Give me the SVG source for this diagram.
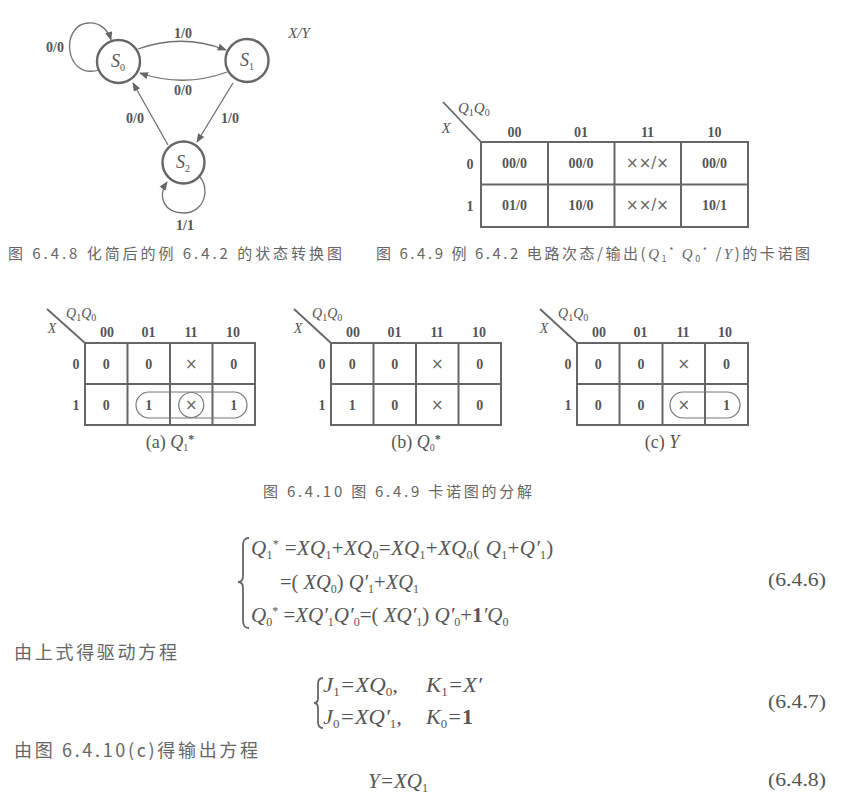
<svg xmlns="http://www.w3.org/2000/svg" width="862" height="801" viewBox="0 0 862 801">
<defs>
<marker id="ah" viewBox="0 0 10 10" refX="9" refY="5" markerWidth="9" markerHeight="9" orient="auto" markerUnits="userSpaceOnUse">
<path d="M0,1 L10,5 L0,9 z" fill="#666"/>
</marker>
<style>
.edge{stroke:#707070;stroke-width:1.3;fill:none;marker-end:url(#ah)}
.st{stroke:#666;stroke-width:2.4;fill:#fff}
.sl{font-family:"Liberation Serif",serif;font-style:italic;font-size:18px;fill:#555;text-anchor:middle}
.lbl{font-family:"Liberation Serif",serif;font-weight:bold;font-size:14px;fill:#555;text-anchor:middle}
.it{font-family:"Liberation Serif",serif;font-style:italic;fill:#555}
.grid{stroke:#666;stroke-width:2;fill:none}
.thin{stroke:#666;stroke-width:1.8;fill:none}
.cv{font-family:"Liberation Serif",serif;font-weight:bold;font-size:14px;fill:#555;text-anchor:middle}
.cx{font-family:"DejaVu Sans",sans-serif;font-size:15px;fill:#666;text-anchor:middle}
.cjk{font-family:"Noto Sans CJK SC",sans-serif;fill:#666}
.eq{font-family:"Liberation Serif",serif;font-style:italic;font-size:21px;fill:#555}
.eq20{font-family:"Liberation Serif",serif;font-style:italic;font-size:20.5px;fill:#555}
.eq21{font-family:"Liberation Serif",serif;font-style:italic;font-size:21px;fill:#555;letter-spacing:0.3px}
.num{font-family:"Liberation Serif",serif;font-size:18px;fill:#555}
.loop{stroke:#777;stroke-width:1.2;fill:none}
.s{font-style:normal;font-size:12px}
.s10{font-style:normal;font-size:10px}
.u{font-style:normal}
</style>
</defs>
<rect width="862" height="801" fill="#fff"/>

<!-- State diagram connectors -->
<g id="connectors">
<path class="edge" d="M99,70 C64,80 60,25 88,23 C100,22 108,30 111,40"/>
<path class="edge" d="M138,49 Q182,33 226,50"/>
<path class="edge" d="M227,72 Q184,88 140,73"/>
<path class="edge" d="M168,145 L133,83"/>
<path class="edge" d="M233,83 L197,142"/>
<path class="edge" d="M198,175 C212,188 204,213 184,213 C164,213 157,197 167,182"/>
<text class="lbl" x="55" y="52">0/0</text>
<text class="lbl" x="183" y="38">1/0</text>
<text class="lbl" x="183" y="95">0/0</text>
<text class="lbl" x="135" y="123">0/0</text>
<text class="lbl" x="230" y="123">1/0</text>
<text class="lbl" x="185" y="230">1/1</text>
</g>
<g id="S0"><circle class="st" cx="118.5" cy="61.5" r="21.5"/><text class="sl" x="118" y="67">S<tspan class="s10" font-size="11" baseline-shift="-4">0</tspan></text></g>
<g id="S1"><circle class="st" cx="247" cy="60.5" r="21.5"/><text class="sl" x="247" y="66">S<tspan class="s10" font-size="11" baseline-shift="-4">1</tspan></text></g>
<g id="S2"><circle class="st" cx="183.5" cy="162.5" r="21"/><text class="sl" x="183" y="168">S<tspan class="s10" font-size="11" baseline-shift="-4">2</tspan></text></g>
<text class="it" x="299" y="38" font-size="15" text-anchor="middle">X/Y</text>

<!-- Top K-map -->
<g id="kmap-main" transform="translate(481,142)">
<rect class="grid" x="0" y="0" width="267" height="85"/>
<path class="grid" d="M67,0V85M133.5,0V85M200,0V85M0,42.5H267"/>
<path class="thin" d="M-38,-40L0,0"/>
<text class="it" x="-23" y="-29" font-size="15">Q<tspan class="s10" baseline-shift="-3">1</tspan>Q<tspan class="s10" baseline-shift="-3">0</tspan></text>
<text class="it" x="-35" y="-9" font-size="15" text-anchor="middle">X</text>
<text class="cv" x="33.5" y="-5">00</text><text class="cv" x="100" y="-5">01</text><text class="cv" x="166.5" y="-5">11</text><text class="cv" x="233.5" y="-5">10</text>
<text class="cv" x="-11" y="27">0</text><text class="cv" x="-11" y="69">1</text>
<text class="cv" x="33.5" y="26">00/0</text><text class="cv" x="100" y="26">00/0</text><text class="cx" x="166.5" y="26" font-size="14">××/×</text><text class="cv" x="233.5" y="26">00/0</text>
<text class="cv" x="33.5" y="68">01/0</text><text class="cv" x="100" y="68">10/0</text><text class="cx" x="166.5" y="68" font-size="14">××/×</text><text class="cv" x="233.5" y="68">10/1</text>
</g>

<text class="cjk" x="8" y="259" font-size="15" textLength="334" lengthAdjust="spacing">图 6.4.8  化简后的例 6.4.2 的状态转换图</text>
<text class="cjk" x="376" y="259" font-size="15" textLength="434" lengthAdjust="spacing">图 6.4.9  例 6.4.2 电路次态/输出(<tspan font-family="Liberation Serif" font-style="italic">Q</tspan><tspan font-size="9" baseline-shift="-3">1</tspan><tspan font-size="9" baseline-shift="5">*</tspan> <tspan font-family="Liberation Serif" font-style="italic">Q</tspan><tspan font-size="9" baseline-shift="-3">0</tspan><tspan font-size="9" baseline-shift="5">*</tspan> /<tspan font-family="Liberation Serif" font-style="italic">Y</tspan>)的卡诺图</text>

<!-- Small K-map (a) -->
<g id="kmap-a" transform="translate(85,343)">
<rect class="grid" x="0" y="0" width="170" height="82"/>
<path class="grid" d="M42.5,0V82M85,0V82M127.5,0V82M0,41H170"/>
<path class="thin" d="M-38,-34L0,0"/>
<text class="it" x="-19" y="-25" font-size="14">Q<tspan class="s10" baseline-shift="-3">1</tspan>Q<tspan class="s10" baseline-shift="-3">0</tspan></text>
<text class="it" x="-33" y="-10" font-size="14" text-anchor="middle">X</text>
<text class="cv" x="22" y="-6">00</text><text class="cv" x="63.5" y="-6">01</text><text class="cv" x="106" y="-6">11</text><text class="cv" x="148" y="-6">10</text>
<text class="cv" x="-9" y="26">0</text><text class="cv" x="-9" y="67">1</text>
<text class="cv" x="21.25" y="26">0</text><text class="cv" x="63.75" y="26">0</text><text class="cx" x="106.25" y="26">×</text><text class="cv" x="148.75" y="26">0</text>
<text class="cv" x="21.25" y="67">0</text><text class="cv" x="63.75" y="67">1</text><text class="cx" x="106.25" y="67">×</text><text class="cv" x="148.75" y="67">1</text>
<rect class="loop" x="51" y="49" width="111" height="26" rx="13"/>
<circle class="loop" cx="106.25" cy="62" r="12.5"/>
</g>
<text class="num" x="170" y="448" font-size="14" text-anchor="middle">(a) <tspan font-style="italic">Q</tspan><tspan font-size="10" baseline-shift="-3">1</tspan><tspan font-size="12" font-weight="bold" baseline-shift="5">*</tspan></text>

<!-- Small K-map (b) -->
<g id="kmap-b" transform="translate(331,343)">
<rect class="grid" x="0" y="0" width="170" height="82"/>
<path class="grid" d="M42.5,0V82M85,0V82M127.5,0V82M0,41H170"/>
<path class="thin" d="M-37,-34L0,0"/>
<text class="it" x="-19" y="-25" font-size="14">Q<tspan class="s10" baseline-shift="-3">1</tspan>Q<tspan class="s10" baseline-shift="-3">0</tspan></text>
<text class="it" x="-33" y="-10" font-size="14" text-anchor="middle">X</text>
<text class="cv" x="22" y="-6">00</text><text class="cv" x="63.5" y="-6">01</text><text class="cv" x="106" y="-6">11</text><text class="cv" x="148" y="-6">10</text>
<text class="cv" x="-9" y="26">0</text><text class="cv" x="-9" y="67">1</text>
<text class="cv" x="21.25" y="26">0</text><text class="cv" x="63.75" y="26">0</text><text class="cx" x="106.25" y="26">×</text><text class="cv" x="148.75" y="26">0</text>
<text class="cv" x="21.25" y="67">1</text><text class="cv" x="63.75" y="67">0</text><text class="cx" x="106.25" y="67">×</text><text class="cv" x="148.75" y="67">0</text>
</g>
<text class="num" x="416" y="448" font-size="14" text-anchor="middle">(b) <tspan font-style="italic">Q</tspan><tspan font-size="10" baseline-shift="-3">0</tspan><tspan font-size="12" font-weight="bold" baseline-shift="5">*</tspan></text>

<!-- Small K-map (c) -->
<g id="kmap-c" transform="translate(577,343)">
<rect class="grid" x="0" y="0" width="171" height="82"/>
<path class="grid" d="M42.5,0V82M85.5,0V82M128,0V82M0,41H171"/>
<path class="thin" d="M-37,-34L0,0"/>
<text class="it" x="-19" y="-25" font-size="14">Q<tspan class="s10" baseline-shift="-3">1</tspan>Q<tspan class="s10" baseline-shift="-3">0</tspan></text>
<text class="it" x="-33" y="-10" font-size="14" text-anchor="middle">X</text>
<text class="cv" x="22" y="-6">00</text><text class="cv" x="63.5" y="-6">01</text><text class="cv" x="106" y="-6">11</text><text class="cv" x="148" y="-6">10</text>
<text class="cv" x="-9" y="26">0</text><text class="cv" x="-9" y="67">1</text>
<text class="cv" x="21.25" y="26">0</text><text class="cv" x="64" y="26">0</text><text class="cx" x="106.75" y="26">×</text><text class="cv" x="149.5" y="26">0</text>
<text class="cv" x="21.25" y="67">0</text><text class="cv" x="64" y="67">0</text><text class="cx" x="106.75" y="67">×</text><text class="cv" x="149.5" y="67">1</text>
<rect class="loop" x="93" y="49" width="70" height="26" rx="13"/>
</g>
<text class="num" x="662" y="448" font-size="14" text-anchor="middle">(c) <tspan font-style="italic">Y</tspan></text>

<text class="cjk" x="263" y="497" font-size="15" textLength="269" lengthAdjust="spacing">图 6.4.10  图 6.4.9 卡诺图的分解</text>

<!-- Equations -->
<path class="thin" stroke-width="1.5" d="M249,538 C244,538 243,541 243,546 L243,576 C243,580 241,582 238,582 C241,582 243,584 243,588 L243,620 C243,625 244,628 249,628"/>
<text class="eq21" x="251" y="555">Q<tspan class="s" baseline-shift="-4">1</tspan><tspan class="s" font-size="13" baseline-shift="7">*</tspan> <tspan class="u">=</tspan>XQ<tspan class="s" baseline-shift="-4">1</tspan><tspan class="u">+</tspan>XQ<tspan class="s" baseline-shift="-4">0</tspan><tspan class="u">=</tspan>XQ<tspan class="s" baseline-shift="-4">1</tspan><tspan class="u">+</tspan>XQ<tspan class="s" baseline-shift="-4">0</tspan><tspan class="u">( </tspan>Q<tspan class="s" baseline-shift="-4">1</tspan><tspan class="u">+</tspan>Q′<tspan class="s" baseline-shift="-4">1</tspan><tspan class="u">)</tspan></text>
<text class="eq20" x="280" y="589"><tspan class="u">=( </tspan>XQ<tspan class="s" baseline-shift="-4">0</tspan><tspan class="u">) </tspan>Q′<tspan class="s" baseline-shift="-4">1</tspan><tspan class="u">+</tspan>XQ<tspan class="s" baseline-shift="-4">1</tspan></text>
<text class="eq" x="251" y="622">Q<tspan class="s" baseline-shift="-4">0</tspan><tspan class="s" font-size="13" baseline-shift="7">*</tspan> <tspan class="u">=</tspan>XQ′<tspan class="s" baseline-shift="-4">1</tspan>Q′<tspan class="s" baseline-shift="-4">0</tspan><tspan class="u">=( </tspan>XQ′<tspan class="s" baseline-shift="-4">1</tspan><tspan class="u">) </tspan>Q′<tspan class="s" baseline-shift="-4">0</tspan><tspan class="u">+</tspan><tspan font-style="normal" font-weight="bold">1</tspan>′Q<tspan class="s" baseline-shift="-4">0</tspan></text>
<text class="num" x="768" y="586" textLength="58" lengthAdjust="spacingAndGlyphs">(6.4.6)</text>

<text class="cjk" x="14" y="659" font-size="18" textLength="163" lengthAdjust="spacing">由上式得驱动方程</text>

<path class="thin" stroke-width="1.5" d="M323,678 C319,678 318,680 318,684 L318,698 C318,701 317,703 314,703 C317,703 318,705 318,708 L318,722 C318,726 319,728 323,728"/>
<text class="eq" x="323" y="692" textLength="75" lengthAdjust="spacingAndGlyphs">J<tspan class="s" baseline-shift="-4">1</tspan>=XQ<tspan class="s" baseline-shift="-4">0</tspan>,</text>
<text class="eq" x="426" y="692" textLength="56" lengthAdjust="spacingAndGlyphs">K<tspan class="s" baseline-shift="-4">1</tspan>=X′</text>
<text class="eq" x="323" y="724" textLength="79" lengthAdjust="spacingAndGlyphs">J<tspan class="s" baseline-shift="-4">0</tspan>=XQ′<tspan class="s" baseline-shift="-4">1</tspan>,</text>
<text class="eq" x="426" y="724" textLength="47" lengthAdjust="spacingAndGlyphs">K<tspan class="s" baseline-shift="-4">0</tspan>=<tspan font-style="normal" font-weight="bold">1</tspan></text>
<text class="num" x="768" y="708" textLength="58" lengthAdjust="spacingAndGlyphs">(6.4.7)</text>

<text class="cjk" x="14" y="757" font-size="18" textLength="244" lengthAdjust="spacing">由图 6.4.10(c)得输出方程</text>

<text class="eq" x="368" y="788" textLength="60" lengthAdjust="spacingAndGlyphs">Y=XQ<tspan class="s" baseline-shift="-4">1</tspan></text>
<text class="num" x="768" y="786" textLength="58" lengthAdjust="spacingAndGlyphs">(6.4.8)</text>
</svg>
